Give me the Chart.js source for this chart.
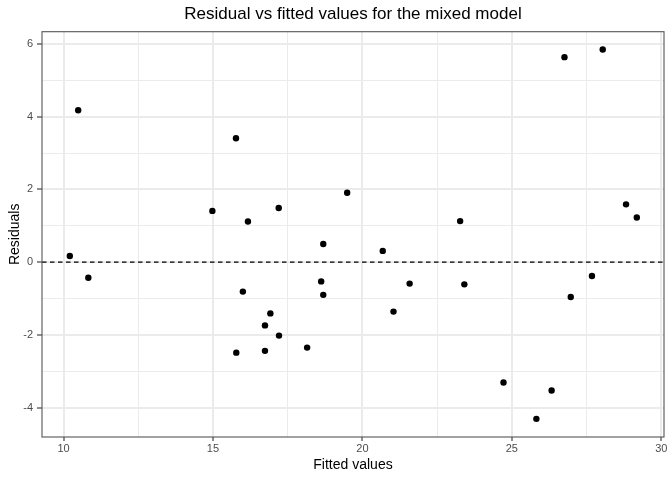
<!DOCTYPE html>
<html lang="en">
<head>
  <meta charset="UTF-8"/>
  <title>Residual vs fitted values</title>
  <script src="https://cdn.jsdelivr.net/npm/chart.js@4.4.1/dist/chart.umd.min.js"></script>
  <style>
    html, body { margin: 0; padding: 0; background: #fff; }
    #wrap { width: 672px; height: 480px; }
  </style>
</head>
<body>
  <div id="wrap"><canvas id="myChart"></canvas></div>
  <script>
    // values
    var fitted = [10.21, 10.49, 10.83, 14.98, 15.77, 15.78, 16.00, 16.17, 16.74, 16.74, 16.92,
                  17.20, 17.21, 18.15, 18.62, 18.69, 18.69, 19.49, 20.68, 21.04, 21.58, 23.27,
                  23.41, 24.72, 25.82, 26.33, 26.76, 26.97, 27.68, 28.04, 28.82, 29.18];
    var residuals = [0.17, 4.18, -0.43, 1.41, 3.41, -2.49, -0.81, 1.12, -1.74, -2.44, -1.41,
                     1.49, -2.02, -2.35, -0.53, 0.50, -0.90, 1.91, 0.31, -1.36, -0.59, 1.13,
                     -0.61, -3.31, -4.31, -3.53, 5.64, -0.96, -0.38, 5.85, 1.59, 1.23];

    var xTicks = [10, 12.5, 15, 17.5, 20, 22.5, 25, 27.5, 30];
    var xLabels = ['10', '', '15', '', '20', '', '25', '', '30'];
    var yTicks = [-4, -3, -2, -1, 0, 1, 2, 3, 4, 5, 6];
    var yLabels = ['-4', '', '-2', '', '0', '', '2', '', '4', '', '6'];

    var puntos = [];
    for (var i = 0; i < fitted.length; i++) {
      puntos.push({ x: fitted[i], y: residuals[i] });
    }

    var fuente = '"Liberation Sans", Arial, Helvetica, sans-serif';

    function esMenor(labels, idx) { return labels[idx] === ''; }

    // zero line (dashed) and the panel border
    var panelPlugin = {
      id: 'panel',
      beforeDatasetsDraw: function (chart) {
        var ctx = chart.ctx, a = chart.chartArea;
        var y0 = chart.scales.y.getPixelForValue(0);
        ctx.save();
        ctx.strokeStyle = '#000';
        ctx.lineWidth = 1.2;
        ctx.setLineDash([4.5, 3.5]);
        ctx.beginPath();
        ctx.moveTo(a.left, y0);
        ctx.lineTo(a.right, y0);
        ctx.stroke();
        ctx.restore();
      },
      afterDraw: function (chart) {
        var ctx = chart.ctx, a = chart.chartArea;
        ctx.save();
        ctx.strokeStyle = '#555555';
        ctx.lineWidth = 1.1;
        ctx.strokeRect(a.left, a.top, a.right - a.left, a.bottom - a.top);
        ctx.restore();
      }
    };

    var ctx = document.getElementById('myChart').getContext('2d');
    var chart = new Chart(ctx, {
      type: 'scatter',
      data: {
        datasets: [{
          label: 'Residuals',
          data: puntos,
          backgroundColor: '#000',
          borderColor: '#000',
          pointRadius: 3.2,
          pointHoverRadius: 3.2,
          borderWidth: 0
        }]
      },
      options: {
        responsive: true,
        maintainAspectRatio: false,
        animation: false,
        layout: { padding: { left: 0, right: 8, top: 0, bottom: 0 } },
        plugins: {
          legend: { display: false },
          tooltip: { enabled: false },
          title: {
            display: true,
            fullSize: false,
            text: 'Residual vs fitted values for the mixed model',
            color: '#000',
            font: { family: fuente, size: 17, weight: 'normal' },
            padding: { top: 4, bottom: 7.3 }
          }
        },
        scales: {
          x: {
            type: 'linear',
            min: 9.28,
            max: 30.09,
            afterBuildTicks: function (axis) {
              axis.ticks = xTicks.map(function (v) { return { value: v }; });
            },
            afterFit: function (axis) { axis.height = 43; },
            ticks: {
              autoSkip: false,
              maxRotation: 0,
              color: '#4D4D4D',
              padding: 1,
              font: { family: fuente, size: 11 },
              callback: function (v, idx) { return xLabels[idx]; }
            },
            grid: {
              color: '#EBEBEB',
              lineWidth: function (c) { return esMenor(xLabels, c.index) ? 1 : 2; },
              tickColor: function (c) { return esMenor(xLabels, c.index) ? 'rgba(0,0,0,0)' : '#333333'; },
              tickLength: 4,
              tickWidth: 1.1
            },
            border: { display: false },
            title: {
              display: true,
              text: 'Fitted values',
              color: '#000',
              font: { family: fuente, size: 14 },
              padding: { top: 0, bottom: 6.6 }
            }
          },
          y: {
            type: 'linear',
            min: -4.81,
            max: 6.34,
            afterBuildTicks: function (axis) {
              axis.ticks = yTicks.map(function (v) { return { value: v }; });
            },
            afterFit: function (axis) { axis.width = 42; },
            ticks: {
              autoSkip: false,
              color: '#4D4D4D',
              padding: 4,
              font: { family: fuente, size: 11 },
              callback: function (v, idx) { return yLabels[idx]; }
            },
            grid: {
              color: '#EBEBEB',
              lineWidth: function (c) { return esMenor(yLabels, c.index) ? 1 : 2; },
              tickColor: function (c) { return esMenor(yLabels, c.index) ? 'rgba(0,0,0,0)' : '#333333'; },
              tickLength: 5,
              tickWidth: 1.1
            },
            border: { display: false },
            title: {
              display: true,
              text: 'Residuals',
              color: '#000',
              font: { family: fuente, size: 14 },
              padding: { top: 6.6, bottom: 0 }
            }
          }
        }
      },
      plugins: [panelPlugin]
    });
  </script>
</body>
</html>
